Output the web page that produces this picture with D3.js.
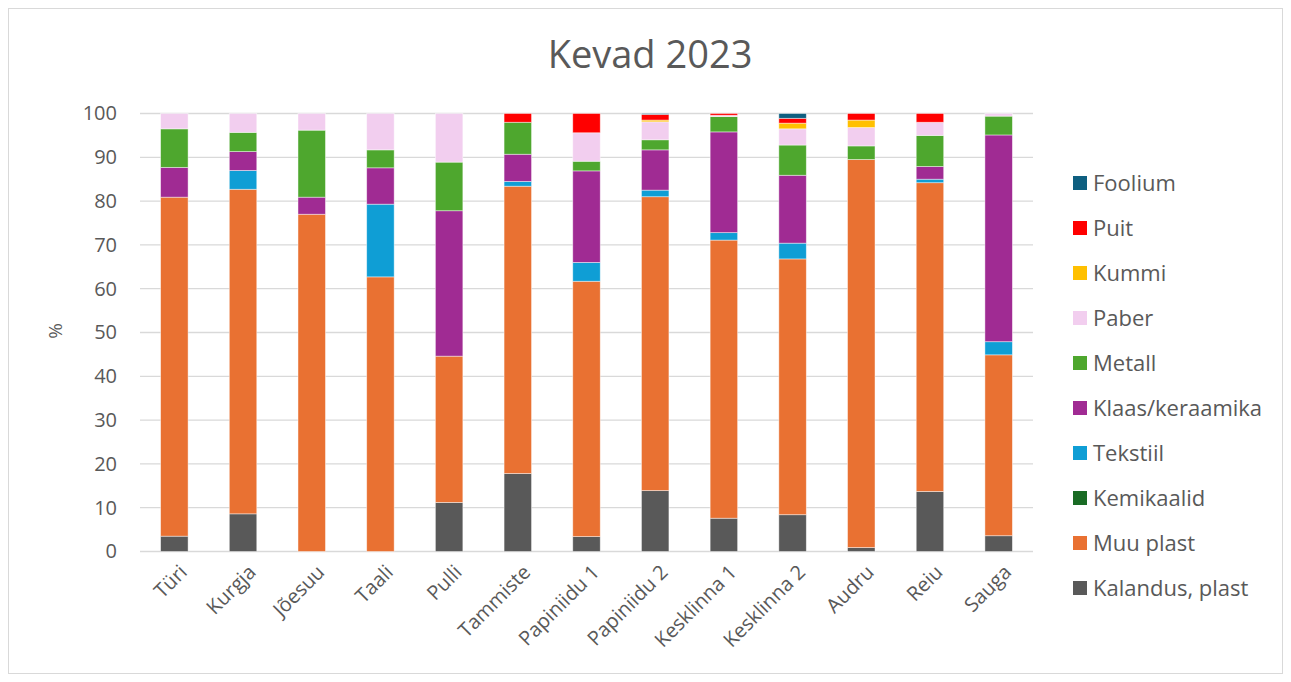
<!DOCTYPE html>
<html>
<head>
<meta charset="utf-8">
<script src="https://cdn.jsdelivr.net/npm/d3@7"></script>
<style>
  html, body { margin: 0; padding: 0; background: #fff; }
  svg { display: block; font-family: "Open Sans", "Noto Sans", sans-serif; }
</style>
</head>
<body>
<svg id="chart" width="1291" height="682"></svg>
<script>
// Sampling sites
const categories = ["Türi", "Kurgja", "Jõesuu", "Taali", "Pulli", "Tammiste", "Papiniidu 1",
  "Papiniidu 2", "Kesklinna 1", "Kesklinna 2", "Audru", "Reiu", "Sauga"];

// Share of each waste fraction per site, %
const kalandusPlast = [3.5, 8.6, 0, 0, 11.2, 17.8, 3.4, 13.9, 7.6, 8.4, 0.9, 13.7, 3.6];
const muuPlast      = [77.4, 74.1, 77.0, 62.7, 33.4, 65.6, 58.3, 67.1, 63.5, 58.4, 88.6, 70.5, 41.3];
const kemikaalid    = [0, 0, 0, 0, 0, 0, 0, 0, 0, 0, 0, 0, 0];
const tekstiil      = [0, 4.3, 0, 16.6, 0, 1.1, 4.3, 1.5, 1.7, 3.6, 0, 0.8, 3.0];
const klaas         = [6.8, 4.3, 3.9, 8.3, 33.2, 6.2, 20.9, 9.2, 23.0, 15.5, 0, 2.9, 47.2];
const metall        = [8.8, 4.4, 15.3, 4.1, 11.1, 7.3, 2.2, 2.3, 3.5, 6.9, 3.1, 7.1, 4.3];
const paber         = [3.5, 4.3, 3.8, 8.3, 11.1, 0, 6.5, 4.1, 0.3, 3.7, 4.2, 3.0, 0.6];
const kummi         = [0, 0, 0, 0, 0, 0, 0, 0.4, 0, 1.3, 1.7, 0, 0];
const puit          = [0, 0, 0, 0, 0, 2.0, 4.4, 1.3, 0.4, 1.1, 1.5, 2.0, 0];
const foolium       = [0, 0, 0, 0, 0, 0, 0, 0.2, 0, 1.1, 0, 0, 0];

// Series, bottom of stack first
const seriesNames  = ["Kalandus, plast", "Muu plast", "Kemikaalid", "Tekstiil", "Klaas/keraamika",
  "Metall", "Paber", "Kummi", "Puit", "Foolium"];
const seriesValues = [kalandusPlast, muuPlast, kemikaalid, tekstiil, klaas, metall, paber, kummi, puit, foolium];
const seriesColors = ["#595959", "#E97132", "#196B24", "#0F9ED5", "#A02B93",
  "#4EA72E", "#F2CEEF", "#FFC000", "#FF0000", "#0E5F80"];

const yTicks = [0, 10, 20, 30, 40, 50, 60, 70, 80, 90, 100];

const svg = d3.select("#chart");
const textColor = "#595959";
const fontStack = "\"Open Sans\", \"Noto Sans\", sans-serif";

// Outer chart frame
svg.append("rect")
  .attr("x", 8.5).attr("y", 8.5)
  .attr("width", 1274).attr("height", 665)
  .attr("fill", "#fff").attr("stroke", "#d9d9d9").attr("stroke-width", 1);

// Title
svg.append("text")
  .attr("x", 650).attr("y", 68)
  .attr("text-anchor", "middle")
  .attr("font-size", 38)
  .attr("fill", textColor)
  .text("Kevad 2023");

const plot = { left: 140, right: 1033, top: 113.5, bottom: 551.5 };

const x = d3.scaleBand()
  .domain(categories)
  .range([plot.left, plot.right])
  .paddingInner(0.6)
  .paddingOuter(0.3);

const y = d3.scaleLinear()
  .domain([0, 100])
  .range([plot.bottom, plot.top]);

// Horizontal gridlines
svg.append("g")
  .selectAll("line")
  .data(yTicks)
  .join("line")
  .attr("x1", plot.left).attr("x2", plot.right)
  .attr("y1", d => y(d)).attr("y2", d => y(d))
  .attr("stroke", "#d9d9d9").attr("stroke-width", 1.3);

// Y axis labels
const yAxis = svg.append("g")
  .attr("transform", `translate(${plot.left},0)`)
  .call(d3.axisLeft(y).tickValues(yTicks).tickSize(0).tickPadding(23));
yAxis.select(".domain").remove();
yAxis.selectAll("text")
  .attr("font-size", 20)
  .attr("fill", textColor)
  .attr("font-family", fontStack);

// Y axis title
svg.append("text")
  .attr("transform", "translate(62,331) rotate(-90)")
  .attr("text-anchor", "middle")
  .attr("font-size", 19)
  .attr("fill", textColor)
  .text("%");

// Stacked bars
const table = categories.map((c, i) => {
  const row = { cat: c };
  seriesNames.forEach((s, j) => { row[s] = seriesValues[j][i]; });
  return row;
});
const stacked = d3.stack().keys(seriesNames)(table);

svg.append("g")
  .selectAll("g")
  .data(stacked)
  .join("g")
  .attr("fill", (d, i) => seriesColors[i])
  .selectAll("rect")
  .data(d => d.filter(p => p[1] - p[0] > 0))
  .join("rect")
  .attr("x", d => x(d.data.cat))
  .attr("width", x.bandwidth())
  .attr("y", d => y(d[1]))
  .attr("height", d => y(d[0]) - y(d[1]))
  .attr("stroke", "rgba(255,255,255,0.55)")
  .attr("stroke-width", 0.8);

// X axis labels (rotated)
const xAxis = svg.append("g")
  .attr("transform", `translate(0,${plot.bottom})`)
  .call(d3.axisBottom(x).tickSize(0).tickPadding(0));
xAxis.select(".domain").remove();
xAxis.selectAll("text")
  .attr("font-size", 20)
  .attr("fill", textColor)
  .attr("font-family", fontStack)
  .attr("text-anchor", "end")
  .attr("dy", null)
  .attr("transform", "translate(14,22) rotate(-45)");

// Legend, top entry is the top of the stack
const legendItems = seriesNames.map((n, i) => ({ name: n, color: seriesColors[i] })).reverse();
const legend = svg.append("g")
  .selectAll("g")
  .data(legendItems)
  .join("g")
  .attr("transform", (d, i) => `translate(1073,${183 + i * 45})`);
legend.append("rect")
  .attr("x", 0).attr("y", -7)
  .attr("width", 14).attr("height", 14)
  .attr("fill", d => d.color);
legend.append("text")
  .attr("x", 20).attr("y", 0)
  .attr("dy", "0.35em")
  .attr("font-size", 22)
  .attr("fill", textColor)
  .text(d => d.name);
</script>
</body>
</html>
